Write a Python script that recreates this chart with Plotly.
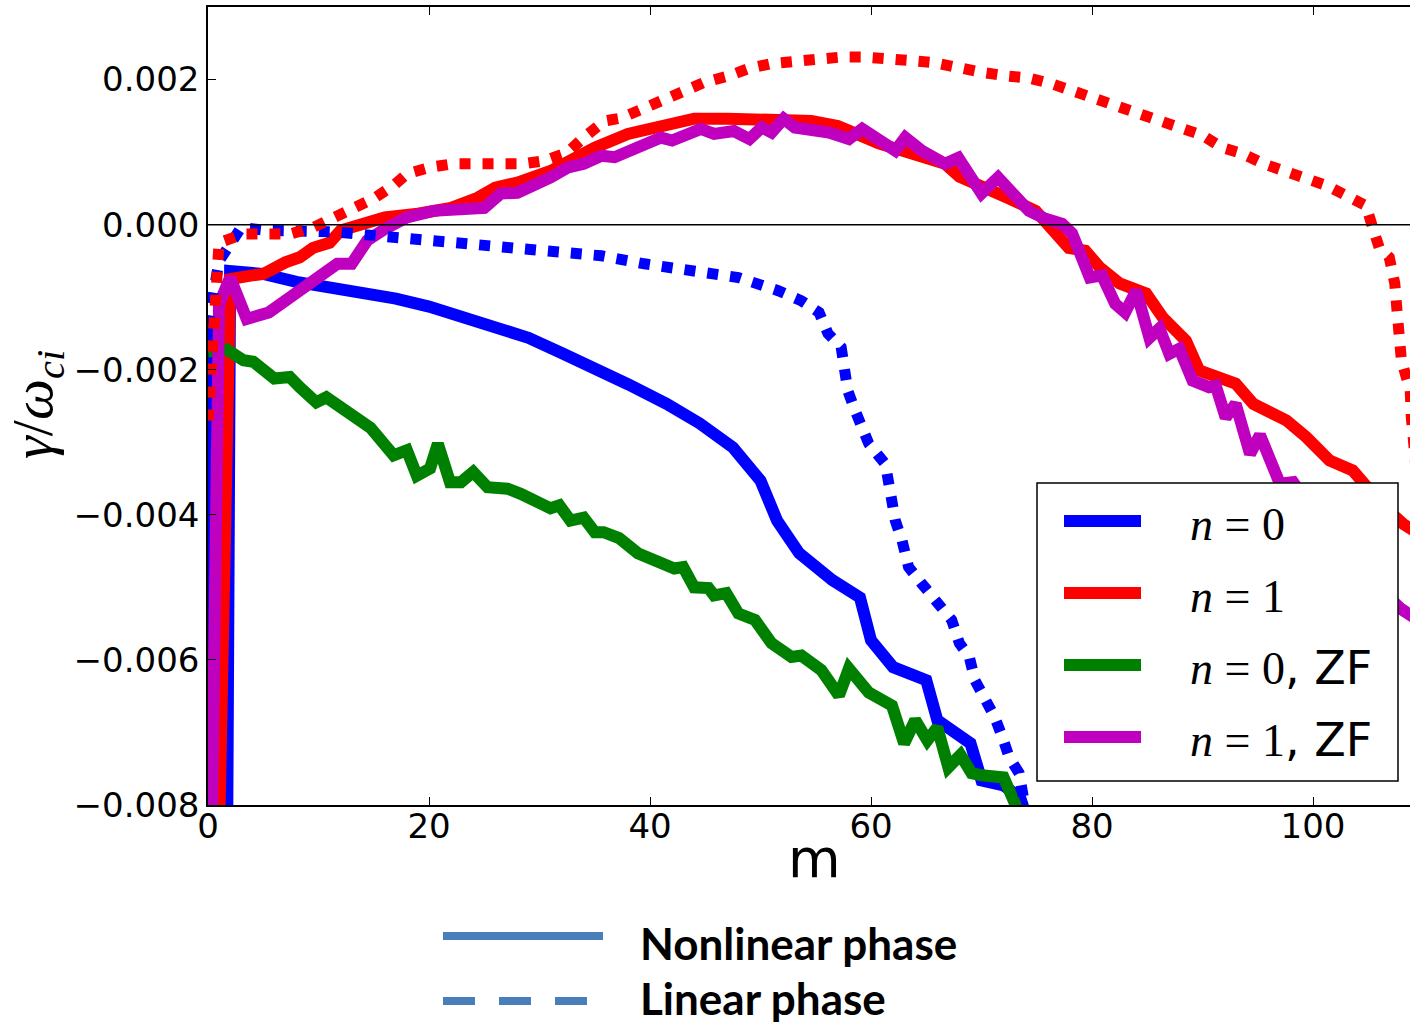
import plotly.graph_objects as go

# ---- growth-rate spectra gamma/omega_ci vs poloidal mode number m ----
# nonlinear phase (solid)
m_n0 = [0, 1, 2, 5, 8, 11, 14, 17, 20, 23, 26, 29, 32, 35.5, 38, 41.5, 44.5, 47.5, 50, 51.5,
        53.5, 56.5, 59, 60, 62, 65, 66, 69, 70, 72, 73.5, 75]
g_n0 = [-0.0014, -0.03, -0.00064, -0.00068, -0.00079, -0.00087, -0.00092, -0.00102, -0.00113,
        -0.00127, -0.00142, -0.00156, -0.00177, -0.0020, -0.0022, -0.00247, -0.00274, -0.00307,
        -0.00353, -0.00408, -0.00453, -0.0049, -0.00514, -0.00573, -0.0061, -0.00628, -0.00683,
        -0.00715, -0.00766, -0.00773, -0.0079, -0.0086]

m_n1 = [1, 2, 4, 5, 7, 8.3, 9.5, 11, 12, 14, 16, 19, 22, 24.4, 26, 28, 31, 33, 35, 38, 41,
        44, 47, 50, 54.6, 57, 59.2, 60.7, 63.7, 66.7, 68, 70, 72.5, 74.9, 76.4, 77.9, 79.4, 80.7,
        82.5, 84.9, 86.4, 88.5, 89.7, 93, 94.6, 97.6, 99.4, 101.5, 103.6, 104.8, 106.5, 108.2, 110]
g_n1 = [-0.0084, -0.00075, -0.0007, -0.00068, -0.00052, -0.00045, -0.00032, -0.00025,
        -0.00008, 0.00003, 0.0001, 0.00015, 0.00023, 0.00037, 0.00051, 0.00058, 0.00074, 0.0009,
        0.00106, 0.00125, 0.00136, 0.00146, 0.00146, 0.00146, 0.00143, 0.00136, 0.0012, 0.00112,
        0.00098, 0.00084, 0.00066, 0.00051, 0.00036, 0.00019, -0.00004, -0.00032, -0.00036,
        -0.00059, -0.00081, -0.00095, -0.00128, -0.0016, -0.00201, -0.00219, -0.00247, -0.0027,
        -0.00293, -0.00325, -0.00339, -0.00362, -0.0039, -0.00413, -0.0043]

m_n0_zf = [0, 1.7, 3.2, 4.1, 6, 7.4, 8.3, 9.8, 10.7, 12.6, 14.7, 16.8, 18, 18.9, 20.1, 20.8,
           21.9, 22.9, 24, 25.3, 27.1, 28.3, 31, 31.8, 32.8, 34, 35, 35.8, 37.2, 38.9, 42.2, 43,
           44, 45.3, 45.8, 46.9, 48, 49.5, 51, 52.8, 53.7, 55.5, 57.1, 58, 59.8, 61.9, 63, 64,
           65.1, 66, 67, 68.1, 69.1, 70, 72, 73, 73.5]
g_n0_zf = [-0.00175, -0.00172, -0.00187, -0.00189, -0.00212, -0.0021, -0.00224, -0.00245,
           -0.00238, -0.00258, -0.0028, -0.00318, -0.00311, -0.00346, -0.00336, -0.00302,
           -0.00355, -0.00355, -0.00341, -0.00362, -0.00364, -0.00371, -0.00391, -0.00387,
           -0.00408, -0.00404, -0.00424, -0.00424, -0.00432, -0.00453, -0.00474, -0.00472,
           -0.005, -0.00501, -0.00511, -0.00508, -0.00536, -0.00545, -0.00577, -0.00596,
           -0.00594, -0.00614, -0.00649, -0.00612, -0.00645, -0.00663, -0.00715, -0.00683,
           -0.00711, -0.00693, -0.00748, -0.00731, -0.00756, -0.00759, -0.00762, -0.00797, -0.0082]

m_n1_zf = [0, 1, 2, 3.5, 5.5, 7, 8.3, 10, 11.7, 13, 14.4, 16, 18, 20.4, 23.5, 25, 26.5, 28, 31,
           32.6, 34, 35.6, 36.8, 38.6, 41, 42, 44.6, 45.8, 47.6, 49, 50.1, 51, 52.1, 53.1, 56.2,
           58, 59.2, 62.2, 63.1, 64.6, 66.7, 67.9, 70, 71.5, 74.3, 75.8, 77.3, 78.2, 79.8, 80.9,
           82.1, 83, 84, 85.2, 86.1, 87, 87.9, 89.1, 90.6, 91.2, 92.1, 93, 94.3, 95.2, 97, 98.2,
           103, 108, 110]
g_n1_zf = [-0.012, -0.0011, -0.00073, -0.0013, -0.00121, -0.00105, -0.00091, -0.00075, -0.00054,
           -0.00054, -0.00022, -0.00006, 0.0001, 0.00019, 0.00023, 0.00023, 0.00043, 0.00044,
           0.00065, 0.00079, 0.00084, 0.00095, 0.00093, 0.00106, 0.0012, 0.00116, 0.00132,
           0.00125, 0.00129, 0.00118, 0.00134, 0.00127, 0.00146, 0.00134, 0.00127, 0.00118,
           0.00132, 0.00102, 0.0012, 0.00102, 0.00084, 0.00092, 0.00043, 0.00065, 0.00019,
           0.00008, 0.00001, -0.00012, -0.00073, -0.0007, -0.00109, -0.00121, -0.00091, -0.00156,
           -0.00143, -0.00178, -0.00171, -0.00215, -0.00224, -0.00222, -0.00266, -0.00247,
           -0.00316, -0.0029, -0.00357, -0.00355, -0.0046, -0.0053, -0.0055]

# linear phase (dotted)
m_n0_lin = [0, 1, 3, 5.4, 11.4, 17.4, 23.5, 29.5, 32.8, 35.6, 39.5, 44, 48, 51.6, 53.7, 55.3,
            56.1, 57.3, 57.6, 57.9, 58.5, 59.8, 61.3, 61.6, 62.2, 62.8, 63.4, 64.6, 65.8, 67.3,
            68, 68.9, 69.4, 70.3, 71.2, 71.9, 72.5, 73.4, 73.9, 74.5]
g_n0_lin = [-0.0014, -0.0005, -0.00004, -0.00008, -0.0001, -0.00019, -0.00026, -0.00036, -0.0004,
            -0.00043, -0.00054, -0.00066, -0.00073, -0.00091, -0.00105, -0.00121, -0.0015,
            -0.00169, -0.00197, -0.00229, -0.00254, -0.00302, -0.0033, -0.00366, -0.00408,
            -0.00435, -0.00472, -0.00495, -0.00518, -0.00545, -0.00577, -0.00596, -0.00628,
            -0.00651, -0.00679, -0.00707, -0.00734, -0.00756, -0.00789, -0.0085]

m_n1_lin = [0, 1, 3.2, 5.4, 7.4, 9.5, 11.4, 13.2, 15, 16.8, 18, 20.1, 22.2, 26.5, 28.6, 30.4,
            32.5, 34, 35.9, 37.4, 39.5, 41.3, 42.8, 44.9, 47.1, 48.9, 51, 53.1, 55.3, 57.3, 59.4,
            61.6, 63.7, 65.8, 67.9, 70, 72.2, 74.3, 76.4, 78.2, 80.3, 82.1, 84.3, 86.1, 88.2, 90,
            91.8, 93.6, 95.5, 97.6, 99.4, 101.2, 103, 104.8, 105.4, 106, 106.9, 107.4, 107.6,
            107.9, 108, 108.8, 108.9, 110]
g_n1_lin = [-0.0027, -0.00025, -0.00013, -0.00014, -0.00013, -0.00004, 0.0001, 0.00023, 0.00036,
            0.00054, 0.0007, 0.00079, 0.00084, 0.00084, 0.00084, 0.00088, 0.00099, 0.0012,
            0.00143, 0.00147, 0.00161, 0.00175, 0.00185, 0.00196, 0.00205, 0.00215, 0.00222,
            0.00226, 0.00229, 0.00231, 0.00231, 0.0023, 0.00226, 0.00223, 0.00215, 0.0021,
            0.00205, 0.00202, 0.00194, 0.00185, 0.00175, 0.00164, 0.00155, 0.00146, 0.00134,
            0.00123, 0.00106, 0.00098, 0.00084, 0.00074, 0.00065, 0.00054, 0.0004, 0.00026,
            -0.00004, -0.00032, -0.00045, -0.00081, -0.00118, -0.0015, -0.00187, -0.00229,
            -0.00266, -0.0045]

legend_labels = ["<i>n</i> = 0", "<i>n</i> = 1", "<i>n</i> = 0", "<i>n</i> = 1"]
legend_suffix = ["", "", ", ZF", ", ZF"]
x_ticks = [0, 20, 40, 60, 80, 100]
y_ticks = [-0.008, -0.006, -0.004, -0.002, 0.000, 0.002]
phase_labels = ["Nonlinear phase", "Linear phase"]

BLUE, RED, GREEN, MAGENTA = "#0000ff", "#ff0000", "#008000", "#bf00bf"
colors = [BLUE, RED, GREEN, MAGENTA]

# figure geometry (pixels)
W, H = 1410, 1024
L, R, T, B = 208, 0, 7, 219
PW, PH = W - L - R, H - T - B


def px(x):
    return (x - L) / PW


def py(y):
    return (H - B - y) / PH


fig = go.Figure()

solid = [(m_n0, g_n0, BLUE), (m_n1, g_n1, RED), (m_n0_zf, g_n0_zf, GREEN),
         (m_n1_zf, g_n1_zf, MAGENTA)]
for xs, ys, c in solid:
    fig.add_trace(go.Scatter(x=xs, y=ys, mode="lines", showlegend=False,
                             line=dict(color=c, width=12)))

dotted = [(m_n0_lin, g_n0_lin, BLUE), (m_n1_lin, g_n1_lin, RED)]
for xs, ys, c in dotted:
    fig.add_trace(go.Scatter(x=xs, y=ys, mode="lines", showlegend=False,
                             line=dict(color=c, width=11, dash="11px,12px")))

shapes = []
# zero reference line
shapes.append(dict(type="line", xref="paper", yref="y", x0=0, x1=1, y0=0, y1=0,
                   line=dict(color="black", width=1.5), layer="above"))

# legend box inside the axes
shapes.append(dict(type="rect", xref="paper", yref="paper",
                   x0=px(1037), x1=px(1398), y0=py(781), y1=py(483),
                   fillcolor="white", line=dict(color="black", width=1.5), layer="above"))
annotations = []
leg_y = [521, 593, 665, 737]
for c, lab, suf, yy in zip(colors, legend_labels, legend_suffix, leg_y):
    shapes.append(dict(type="line", xref="paper", yref="paper",
                       x0=px(1064), x1=px(1141), y0=py(yy), y1=py(yy),
                       line=dict(color=c, width=12), layer="above"))
    text = lab
    if suf:
        text += "<span style='font-family:DejaVu Sans;font-size:46px'>" + suf + "</span>"
    annotations.append(dict(text=text, xref="paper", yref="paper", x=px(1188), y=py(yy + 3),
                            xanchor="left", yanchor="middle", showarrow=False,
                            font=dict(family="Liberation Serif", size=46, color="black")))

# line-style key below the axes
KEY = "#4a7ebb"
shapes.append(dict(type="line", xref="paper", yref="paper", x0=px(443), x1=px(603),
                   y0=py(936), y1=py(936), line=dict(color=KEY, width=8)))
shapes.append(dict(type="line", xref="paper", yref="paper", x0=px(443), x1=px(587),
                   y0=py(1001), y1=py(1001), line=dict(color=KEY, width=8, dash="32px,24px")))
for lab, yy in zip(phase_labels, [943, 998]):
    annotations.append(dict(text="<b>" + lab + "</b>", xref="paper", yref="paper",
                            x=px(638), y=py(yy), xanchor="left", yanchor="middle",
                            showarrow=False,
                            font=dict(family="Lato", size=44, color="black")))

# axis titles
annotations.append(dict(text="m", xref="paper", yref="paper", x=px(814), y=py(858),
                        xanchor="center", yanchor="middle", showarrow=False,
                        font=dict(family="DejaVu Sans", size=54, color="black")))
annotations.append(dict(text="<i>γ</i>/<i>ω</i><sub><i>ci</i></sub>", xref="paper",
                        yref="paper", x=px(36), y=py(405), xanchor="center",
                        yanchor="middle", textangle=-90, showarrow=False,
                        font=dict(family="Liberation Serif", size=58, color="black")))

fig.update_layout(
    width=W, height=H,
    margin=dict(l=L, r=R, t=T, b=B, pad=0),
    paper_bgcolor="white", plot_bgcolor="white",
    shapes=shapes, annotations=annotations,
    font=dict(family="DejaVu Sans", color="black"),
)
fig.update_xaxes(range=[0, PW / 11.05], tickvals=x_ticks, ticktext=[str(v) for v in x_ticks],
                 showgrid=False, zeroline=False, showline=True, linecolor="black",
                 linewidth=1.5, mirror="ticks", ticks="inside", ticklen=8, tickwidth=1,
                 tickcolor="black", ticklabelstandoff=-10,
                 tickfont=dict(family="DejaVu Sans", size=34, color="black"))
fig.update_yaxes(range=[-0.008, 0.003], tickvals=y_ticks, tickformat=".3f",
                 showgrid=False, zeroline=False, showline=True, linecolor="black",
                 linewidth=1.5, ticks="inside", ticklen=8, tickwidth=1, tickcolor="black",
                 tickfont=dict(family="DejaVu Sans", size=34, color="black"))

fig.write_html("out.html")
